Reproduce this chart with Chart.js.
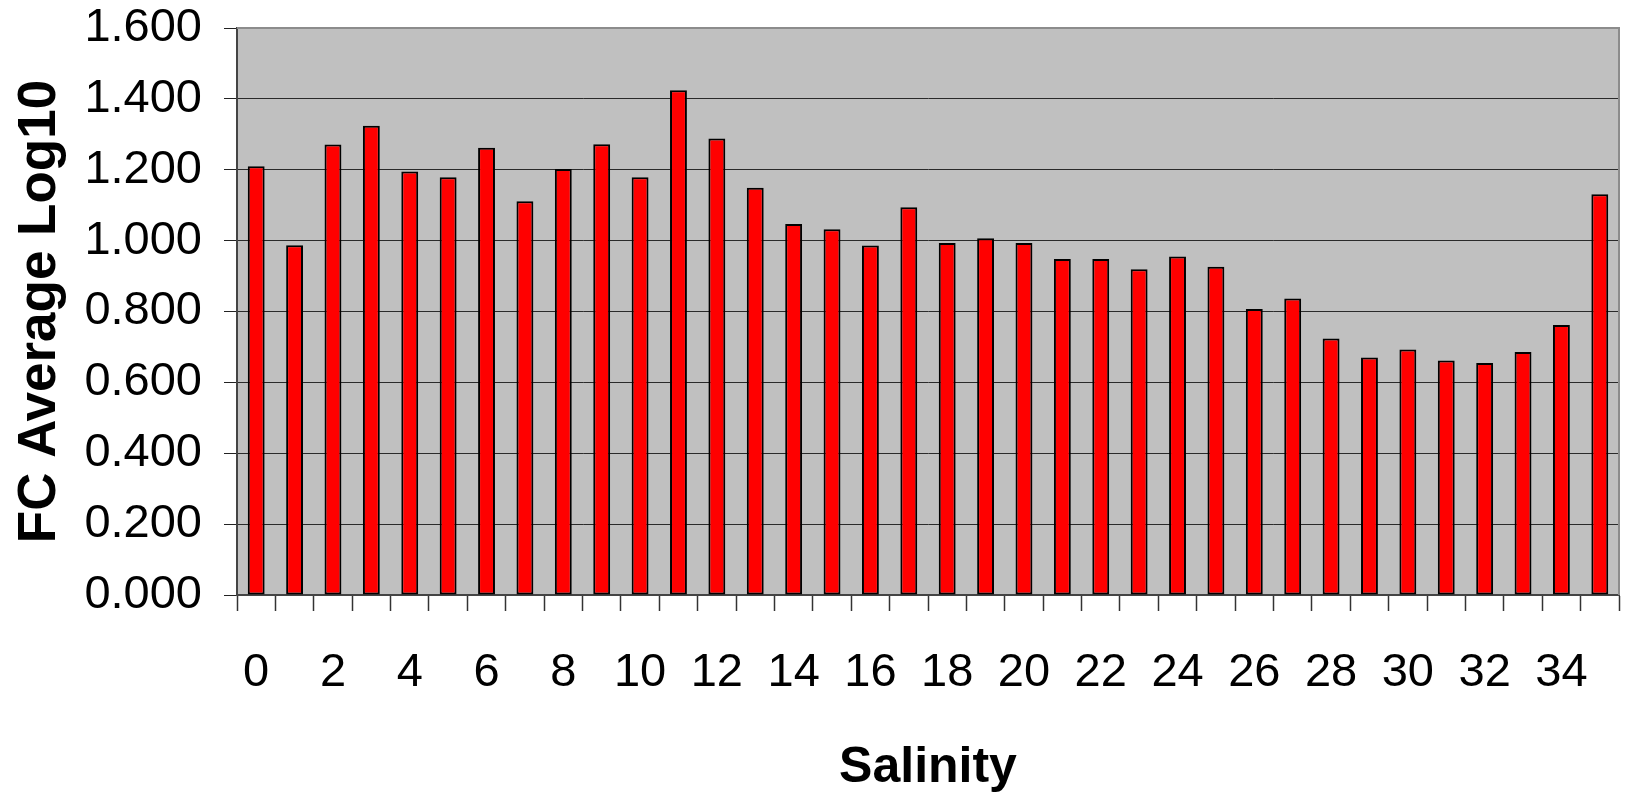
<!DOCTYPE html>
<html>
<head>
<meta charset="utf-8">
<title>FC Average Log10 by Salinity</title>
<script src="https://cdn.jsdelivr.net/npm/chart.js@4.4.1/dist/chart.umd.min.js"></script>
<style>
  html, body { margin: 0; padding: 0; background: #ffffff; }
  #wrap { position: relative; width: 1628px; height: 793px; }
</style>
</head>
<body>
<div id="wrap"><canvas id="chart"></canvas></div>
<script>
// Salinity classes (x categories) and the average log10 faecal coliform count for each
const salinity = [0, 1, 2, 3, 4, 5, 6, 7, 8, 9, 10, 11, 12, 13, 14, 15, 16, 17,
                  18, 19, 20, 21, 22, 23, 24, 25, 26, 27, 28, 29, 30, 31, 32, 33, 34, 35];
const fcAverageLog10 = [1.210, 0.987, 1.271, 1.324, 1.195, 1.179, 1.262, 1.111, 1.202,
                        1.272, 1.179, 1.424, 1.288, 1.149, 1.047, 1.032, 0.986, 1.094,
                        0.993, 1.007, 0.993, 0.948, 0.948, 0.919, 0.955, 0.926, 0.807,
                        0.837, 0.724, 0.670, 0.693, 0.662, 0.655, 0.686, 0.762, 1.131];
// Only every second salinity value is labelled on the x axis
const labelledSalinity = [0, 2, 4, 6, 8, 10, 12, 14, 16, 18, 20, 22, 24, 26, 28, 30, 32, 34];
const yTickValues = [0.0, 0.2, 0.4, 0.6, 0.8, 1.0, 1.2, 1.4, 1.6];

const FONT = "'Liberation Sans', Arial, Helvetica, sans-serif";

// Grey plot background and the light frame on the top and right edges
const plotFrame = {
  id: 'plotFrame',
  beforeDraw(chart) {
    const { ctx, chartArea: a } = chart;
    ctx.save();
    ctx.fillStyle = '#c0c0c0';
    ctx.fillRect(a.left, a.top, a.right - a.left, a.bottom - a.top);
    ctx.restore();
  },
  afterDraw(chart) {
    const { ctx, chartArea: a } = chart;
    ctx.save();
    ctx.strokeStyle = '#8c8c8c';
    ctx.lineWidth = 2;
    ctx.beginPath();
    ctx.moveTo(a.left, a.top);
    ctx.lineTo(a.right, a.top);
    ctx.lineTo(a.right, a.bottom);
    ctx.stroke();
    ctx.restore();
  }
};

new Chart(document.getElementById('chart'), {
  type: 'bar',
  data: {
    labels: salinity.map(String),
    datasets: [{
      label: 'FC Average Log10',
      data: fcAverageLog10,
      backgroundColor: '#ff0000',
      borderColor: '#000000',
      borderWidth: 2,
      borderSkipped: false,
      categoryPercentage: 1.0,
      barPercentage: 0.44
    }]
  },
  options: {
    responsive: true,
    maintainAspectRatio: false,
    animation: false,
    layout: { padding: { top: 28, right: 9, left: 0, bottom: 0 } },
    plugins: {
      legend: { display: false },
      tooltip: { enabled: false }
    },
    scales: {
      x: {
        type: 'category',
        offset: true,
        afterFit(scale) {
          scale.height = 198;
          scale.paddingLeft = 0;
          scale.paddingRight = 0;
        },
        grid: {
          offset: true,
          drawOnChartArea: false,
          drawTicks: true,
          tickLength: 16,
          tickColor: '#333333',
          tickWidth: 1.5
        },
        border: { display: true, color: '#444444', width: 2 },
        ticks: {
          autoSkip: false,
          maxRotation: 0,
          minRotation: 0,
          padding: 34,
          color: '#000000',
          font: { family: FONT, size: 47 },
          callback(value, index) {
            const s = salinity[index];
            return labelledSalinity.includes(s) ? String(s) : '';
          }
        },
        title: {
          display: true,
          text: 'Salinity',
          color: '#000000',
          font: { family: FONT, size: 50, weight: 'bold' },
          padding: { top: 0, bottom: -5 }
        }
      },
      y: {
        min: 0,
        max: 1.6,
        afterFit(scale) {
          scale.width = 237;
          scale.paddingTop = 0;
          scale.paddingBottom = 0;
        },
        afterBuildTicks(scale) {
          scale.ticks = yTickValues.map(v => ({ value: v }));
        },
        grid: {
          color: '#2a2a2a',
          lineWidth: 1,
          drawTicks: true,
          tickLength: 13,
          tickColor: '#222222'
        },
        border: { display: true, color: '#444444', width: 2 },
        ticks: {
          padding: 22,
          color: '#000000',
          font: { family: FONT, size: 47 },
          callback(value) { return Number(value).toFixed(3); }
        },
        title: {
          display: true,
          text: 'FC Average Log10',
          color: '#000000',
          font: { family: FONT, size: 53, weight: 'bold' },
          padding: { top: 9, bottom: 0 }
        }
      }
    }
  },
  plugins: [plotFrame]
});
</script>
</body>
</html>
